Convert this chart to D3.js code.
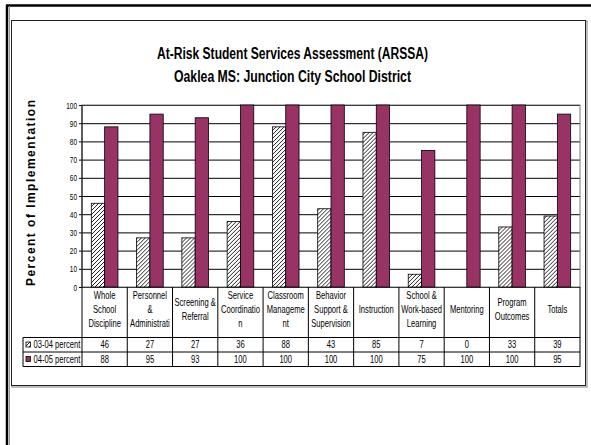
<!DOCTYPE html>
<html>
<head>
<meta charset="utf-8">
<script src="https://cdn.jsdelivr.net/npm/d3@7"></script>
<style>
body { margin: 0; background: #fff; }
text { font-family: "Liberation Sans", Arial, sans-serif; }
</style>
</head>
<body>
<div id="chart"></div>
<script>
let categories = ["Whole School Discipline", "Personnel & Administrati", "Screening & Referral", "Service Coordination",
	"Classroom Management", "Behavior Support & Supervision", "Instruction", "School & Work-based Learning",
	"Mentoring", "Program Outcomes", "Totals"]
let catLines = [["Whole", "School", "Discipline"], ["Personnel", "&", "Administrati"], ["Screening &", "Referral"],
	["Service", "Coordinatio", "n"], ["Classroom", "Manageme", "nt"], ["Behavior", "Support &", "Supervision"],
	["Instruction"], ["School &", "Work-based", "Learning"], ["Mentoring"], ["Program", "Outcomes"], ["Totals"]]
let series = ["03-04 percent", "04-05 percent"]
let values0304 = [46, 27, 27, 36, 88, 43, 85, 7, 0, 33, 39]
let values0405 = [88, 95, 93, 100, 100, 100, 100, 75, 100, 100, 95]
let yTicks = [0, 10, 20, 30, 40, 50, 60, 70, 80, 90, 100]

let W = 591, H = 445
let pLeft = 82, pRight = 580, pTop = 105, pBottom = 287
let purple = "#993366"
let narrow = 0.76

let svg = d3.select("#chart").append("svg").attr("width", W).attr("height", H)

// condensed text, like Arial Narrow
function ntext(g, x, y, str, anchor, size) {
	return g.append("text").attr("transform", `translate(${x},${y}) scale(${narrow},1)`)
		.attr("text-anchor", anchor).attr("font-size", size).attr("fill", "#000").text(str)
}

let defs = svg.append("defs")
let pat = defs.append("pattern").attr("id", "hatch").attr("patternUnits", "userSpaceOnUse")
	.attr("width", 4).attr("height", 4)
pat.append("rect").attr("width", 4).attr("height", 4).attr("fill", "#fff")
pat.append("path").attr("d", "M-1,1 l2,-2 M0,4 l4,-4 M3,5 l2,-2").attr("stroke", "#222").attr("stroke-width", 1)

// page decorations
svg.append("line").attr("x1", 6).attr("x2", W).attr("y1", 5.5).attr("y2", 5.5).attr("stroke", "#000").attr("stroke-width", 2.5)
svg.append("line").attr("x1", 7).attr("x2", 7).attr("y1", 5).attr("y2", H).attr("stroke", "#000").attr("stroke-width", 2.5)
svg.append("line").attr("x1", 9.5).attr("x2", 9.5).attr("y1", 6).attr("y2", H).attr("stroke", "#999").attr("stroke-width", 1)

// chart frame
svg.append("rect").attr("x", 12).attr("y", 21).attr("width", 575).attr("height", 366).attr("fill", "none").attr("stroke", "#aaa").attr("stroke-width", 1.5)
svg.append("rect").attr("x", 11.5).attr("y", 20.5).attr("width", 574).attr("height", 365).attr("fill", "#fff").attr("stroke", "#222").attr("stroke-width", 1)

// titles
svg.append("text").attr("x", 292.5).attr("y", 59).attr("text-anchor", "middle")
	.attr("font-size", 16).attr("font-weight", "bold").attr("textLength", 271).attr("lengthAdjust", "spacingAndGlyphs")
	.text("At-Risk Student Services Assessment (ARSSA)")
svg.append("text").attr("x", 292.5).attr("y", 82).attr("text-anchor", "middle")
	.attr("font-size", 16).attr("font-weight", "bold").attr("textLength", 237).attr("lengthAdjust", "spacingAndGlyphs")
	.text("Oaklea MS: Junction City School District")

svg.append("text").attr("transform", "translate(35,193) rotate(-90)").attr("text-anchor", "middle")
	.attr("font-size", 12).attr("font-weight", "bold").attr("textLength", 186).attr("lengthAdjust", "spacing")
	.text("Percent of Implementation")

let x = d3.scaleBand().domain(categories).range([pLeft, pRight])
let xs = d3.scaleBand().domain(series).range([0, x.bandwidth()]).paddingInner(0).paddingOuter(0.7)
let y = d3.scaleLinear().domain([0, 100]).range([pBottom, pTop])

// gridlines + axis
let yAxis = d3.axisLeft(y).tickValues(yTicks).tickSize(-(pRight - pLeft)).tickFormat("")
let ga = svg.append("g").attr("transform", `translate(${pLeft},0)`).call(yAxis)
ga.select(".domain").remove()
ga.selectAll(".tick line").attr("stroke", "#000").attr("x1", -3)
ga.selectAll(".tick").each(function (d) {
	ntext(d3.select(this), -5, 3, d, "end", 8.5)
})

// plot border
svg.append("rect").attr("x", pLeft).attr("y", pTop).attr("width", pRight - pLeft).attr("height", pBottom - pTop)
	.attr("fill", "none").attr("stroke", "#777").attr("stroke-width", 1)
svg.append("line").attr("x1", pLeft).attr("x2", pLeft).attr("y1", pTop).attr("y2", pBottom).attr("stroke", "#000")

let groups = svg.append("g").selectAll("g").data(categories).enter().append("g")
	.attr("transform", (d) => `translate(${x(d)},0)`)
groups.append("rect")
	.attr("x", xs(series[0])).attr("width", xs.bandwidth())
	.attr("y", (d, i) => y(values0304[i])).attr("height", (d, i) => y(0) - y(values0304[i]))
	.attr("fill", "url(#hatch)").attr("stroke", "#000").attr("stroke-width", 0.8)
	.style("display", (d, i) => values0304[i] == 0 ? "none" : null)
groups.append("rect")
	.attr("x", xs(series[1])).attr("width", xs.bandwidth())
	.attr("y", (d, i) => y(values0405[i])).attr("height", (d, i) => y(0) - y(values0405[i]))
	.attr("fill", purple).attr("stroke", "#000").attr("stroke-width", 0.8)

// data table
let rowTop = pBottom, headBottom = 337.5, rowH = 14.5
let tableBottom = headBottom + rowH * 2
let tg = svg.append("g").attr("stroke", "#000").attr("stroke-width", 1)
x.domain().forEach((c) => {
	tg.append("line").attr("x1", x(c)).attr("x2", x(c)).attr("y1", rowTop).attr("y2", tableBottom)
})
tg.append("line").attr("x1", pRight).attr("x2", pRight).attr("y1", rowTop).attr("y2", tableBottom)
tg.append("line").attr("x1", 23).attr("x2", 23).attr("y1", headBottom).attr("y2", tableBottom)
;[headBottom, headBottom + rowH, tableBottom].forEach((yy) => {
	tg.append("line").attr("x1", 23).attr("x2", pRight).attr("y1", yy).attr("y2", yy)
})

groups.each(function (d, i) {
	let g = d3.select(this)
	let lines = catLines[i]
	let cx = x.bandwidth() / 2
	lines.forEach((t, k) => {
		ntext(g, cx, 312.5 + (k - (lines.length - 1) / 2) * 14, t, "middle", 10)
	})
	ntext(g, cx, headBottom + 10.5, values0304[i], "middle", 10)
	ntext(g, cx, headBottom + rowH + 10.5, values0405[i], "middle", 10)
})

// legend keys
series.forEach((s, k) => {
	let yy = headBottom + k * rowH
	svg.append("rect").attr("x", 26).attr("y", yy + 4.5).attr("width", 4.5).attr("height", 5)
		.attr("fill", k == 0 ? "url(#hatch)" : purple).attr("stroke", "#000").attr("stroke-width", 0.8)
	ntext(svg, 33.5, yy + 10.5, s, "start", 10)
})
</script>
</body>
</html>
